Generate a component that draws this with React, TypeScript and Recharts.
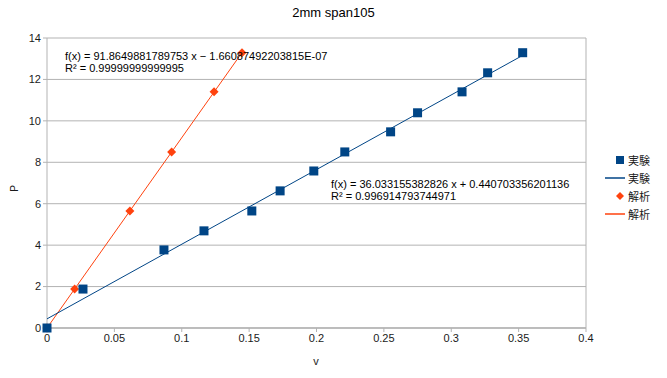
import { ComposedChart, Scatter, XAxis, YAxis, CartesianGrid, ReferenceLine } from "recharts"

// ---------------------------------------------------------------------------
// Data
// ---------------------------------------------------------------------------

const expV = [0, 0.0267, 0.0868, 0.1165, 0.152, 0.173, 0.198, 0.221, 0.255, 0.275, 0.308, 0.327, 0.353]
const expP = [0, 1.88, 3.77, 4.69, 5.65, 6.62, 7.58, 8.5, 9.47, 10.39, 11.4, 12.32, 13.29]

const anaV = [0, 0.0205, 0.0615, 0.0925, 0.124, 0.1447]
const anaP = [0, 1.88, 5.65, 8.5, 11.4, 13.29]

// trend line coefficients shown on the chart
const expSlope = 36.033155382826
const expIntercept = 0.440703356201136
const anaSlope = 91.8649881789753
const anaIntercept = -1.66087492203815e-7

const xTicks = [0, 0.05, 0.1, 0.15, 0.2, 0.25, 0.3, 0.35, 0.4]
const yTicks = [0, 2, 4, 6, 8, 10, 12, 14]

const BLUE = "#004586"
const ORANGE = "#ff420e"
const GRID = "#b3b3b3"
const FONT = "'Liberation Sans', Arial, sans-serif"

const expPoints = expV.map((v, i) => ({ v, p: expP[i] }))
const anaPoints = anaV.map((v, i) => ({ v, p: anaP[i] }))

const expEnd = expV[expV.length - 1]
const anaEnd = anaV[anaV.length - 1]
const expTrend = [
  { v: 0, p: expIntercept },
  { v: expEnd, p: expSlope * expEnd + expIntercept },
]
const anaTrend = [
  { v: 0, p: anaIntercept },
  { v: anaEnd, p: anaSlope * anaEnd + anaIntercept },
]

// ---------------------------------------------------------------------------
// Marker shapes
// ---------------------------------------------------------------------------

function Square(props: any) {
  const { cx, cy } = props
  return <rect x={cx - 4.5} y={cy - 4.5} width={9} height={9} fill={BLUE} />
}

function Diamond(props: any) {
  const { cx, cy } = props
  const r = 4.5
  return <polygon points={`${cx},${cy - r} ${cx + r},${cy} ${cx},${cy + r} ${cx - r},${cy}`} fill={ORANGE} />
}

const NoDot = () => <g />

const tickStyle = { fill: "#1a1a1a", fontSize: 11, fontFamily: FONT }

export default function App() {
  return (
    <div style={{ position: "absolute", left: 0, top: 0, width: 667, height: 378, background: "#fff", fontFamily: FONT }}>
      <ComposedChart width={667} height={378} margin={{ top: 38, right: 81, left: 17, bottom: 30 }}>
        <CartesianGrid vertical={false} stroke={GRID} />
        <XAxis
          type="number"
          dataKey="v"
          domain={[0, 0.4]}
          ticks={xTicks}
          interval={0}
          tick={tickStyle}
          tickLine={{ stroke: GRID }}
          tickSize={4}
          axisLine={{ stroke: GRID }}
          height={20}
        />
        <YAxis
          type="number"
          dataKey="p"
          domain={[0, 14]}
          ticks={yTicks}
          interval={0}
          tick={tickStyle}
          tickLine={{ stroke: GRID }}
          tickSize={4}
          axisLine={{ stroke: GRID }}
          width={30}
        />
        <ReferenceLine x={0.4} stroke={GRID} />
        <Scatter data={anaTrend} line={{ stroke: ORANGE, strokeWidth: 1 }} shape={NoDot} isAnimationActive={false} />
        <Scatter data={expTrend} line={{ stroke: BLUE, strokeWidth: 1 }} shape={NoDot} isAnimationActive={false} />
        <Scatter data={anaPoints} shape={Diamond} isAnimationActive={false} />
        <Scatter data={expPoints} shape={Square} isAnimationActive={false} />
      </ComposedChart>

      {/* title and axis labels */}
      <div style={{ position: "absolute", left: 0, width: 667, top: 5, textAlign: "center", fontSize: 13, color: "#000" }}>
        2mm span105
      </div>
      <div style={{ position: "absolute", left: 308, width: 16, top: 355, textAlign: "center", fontSize: 11, color: "#1a1a1a" }}>v</div>
      <div
        style={{
          position: "absolute",
          left: 6,
          top: 183,
          width: 16,
          textAlign: "center",
          fontSize: 10,
          color: "#1a1a1a",
          transform: "rotate(-90deg)",
        }}
      >
        P
      </div>

      {/* trend line equations */}
      <div style={{ position: "absolute", left: 65, top: 50, fontSize: 11, lineHeight: "12px", color: "#000", whiteSpace: "nowrap" }}>
        <div>f(x) = 91.8649881789753 x − 1.66087492203815E-07</div>
        <div>R² = 0.99999999999995</div>
      </div>
      <div style={{ position: "absolute", left: 331, top: 178, fontSize: 11, lineHeight: "12px", color: "#000", whiteSpace: "nowrap" }}>
        <div>f(x) = 36.033155382826 x + 0.440703356201136</div>
        <div>R² = 0.996914793744971</div>
      </div>

      {/* legend */}
      <div style={{ position: "absolute", left: 605, top: 151, fontSize: 11, color: "#1a1a1a", lineHeight: "18px" }}>
        {[
          { kind: "square", name: "実験" },
          { kind: "line", color: BLUE, name: "実験" },
          { kind: "diamond", name: "解析" },
          { kind: "line", color: ORANGE, name: "解析" },
        ].map((it, i) => (
          <div key={i} style={{ display: "flex", alignItems: "center", height: 18 }}>
            <svg width={20} height={18} style={{ marginRight: 3 }}>
              {it.kind === "square" && <rect x={11} y={5} width={8} height={8} fill={BLUE} />}
              {it.kind === "diamond" && <polygon points="15,5 19,9 15,13 11,9" fill={ORANGE} />}
              {it.kind === "line" && <line x1={0} x2={20} y1={9} y2={9} stroke={it.color} strokeWidth={1.5} />}
            </svg>
            <span style={{ fontFamily: "'Noto Sans CJK JP', sans-serif" }}>{it.name}</span>
          </div>
        ))}
      </div>
    </div>
  )
}
